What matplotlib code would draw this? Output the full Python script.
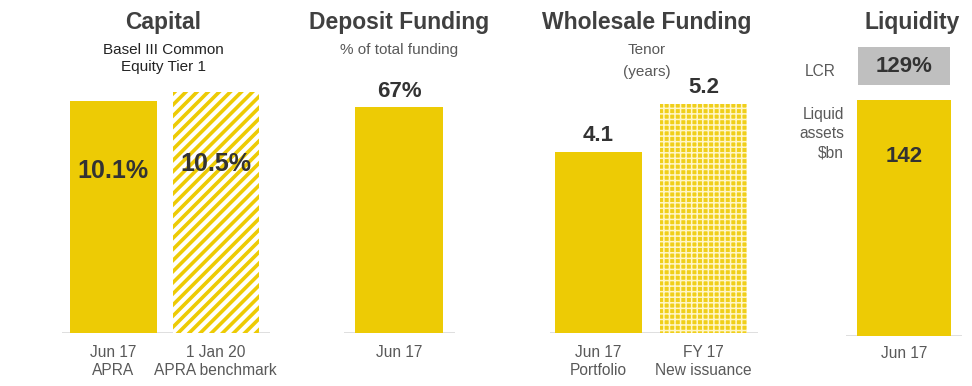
import matplotlib
matplotlib.use("Agg")
import matplotlib.pyplot as plt

plt.rcParams['font.family'] = ['Liberation Sans', 'DejaVu Sans']

# ---- data ----
capital_labels = ["Jun 17\nAPRA", "1 Jan 20\nAPRA benchmark"]
capital_values = [10.1, 10.5]
deposit_labels = ["Jun 17"]
deposit_values = [67]
wholesale_labels = ["Jun 17\nPortfolio", "FY 17\nNew issuance"]
wholesale_values = [4.1, 5.2]
liquidity_labels = ["Jun 17"]
liquid_assets = [142]
lcr_values = [129]

titles = ["Capital", "Deposit Funding", "Wholesale Funding", "Liquidity"]
subtitles = ["Basel III Common\nEquity Tier 1", "% of total funding", "Tenor\n(years)", ""]

YELLOW = "#EDCB05"
GREY = "#BFBFBF"
DARK = "#333333"
TITLE = "#404040"
TICK = "#595959"
BASE = "#D9D9D9"

W, H = 972, 386
fig = plt.figure(figsize=(W / 100, H / 100), dpi=100)


def make_ax(left, right, top, bottom, xlim, ylim):
    ax = fig.add_axes([left / W, 1 - bottom / H, (right - left) / W, (bottom - top) / H])
    ax.set_xlim(*xlim)
    ax.set_ylim(*ylim)
    ax.axis("off")
    ax.axhline(0, color=BASE, lw=1.2, zorder=0)
    return ax


def ticklabels(ax, labels, y_px, color=TICK):
    for i, lab in enumerate(labels):
        ax.annotate(lab, xy=(i, 0), xycoords="data", xytext=(0, -(y_px)),
                    textcoords="offset pixels", ha="center", va="top",
                    fontsize=11.2, color=color, linespacing=1.25)


VAL = dict(fontweight="heavy", color=DARK)

# ---- Capital ----
ax1 = make_ax(62, 270, 92, 333, (-0.5, 1.53), (0, capital_values[1]))
ax1.bar([0], capital_values[:1], width=0.85, color=YELLOW, lw=0)
plt.rcParams['hatch.linewidth'] = 2.6
ax1.bar([1], capital_values[1:], width=0.84, facecolor="white", edgecolor=YELLOW,
        lw=0, hatch="///")
for i, v in enumerate(capital_values):
    ax1.text(i, v * 0.7, f"{v:.1f}%", ha="center", va="center", fontsize=18, **VAL)
ticklabels(ax1, capital_labels, 12)

# ---- Deposit Funding ----
ax2 = make_ax(344, 455, 107, 333, (-0.54, 0.55), (0, deposit_values[0]))
ax2.bar([0], deposit_values, width=0.86, color=YELLOW, lw=0)
ax2.annotate(f"{deposit_values[0]}%", xy=(0, deposit_values[0]), xytext=(0, 5),
             textcoords="offset pixels", ha="center", va="bottom", fontsize=16, **VAL)
ticklabels(ax2, deposit_labels, 12)

# ---- Wholesale Funding ----
ax3 = make_ax(550, 758, 104, 333, (-0.46, 1.52), (0, wholesale_values[1]))
ax3.bar([0], wholesale_values[:1], width=0.83, color=YELLOW, lw=0)
plt.rcParams['hatch.linewidth'] = 1.1
ax3.bar([1], wholesale_values[1:], width=0.83, facecolor="#F0CF1A", edgecolor="#FFF6C8",
        lw=0, hatch="+++")
for i, v in enumerate(wholesale_values):
    ax3.annotate(f"{v:.1f}", xy=(i, v), xytext=(0, 6), textcoords="offset pixels",
                 ha="center", va="bottom", fontsize=16, **VAL)
ticklabels(ax3, wholesale_labels, 12)

# ---- Liquidity ----
ax4 = make_ax(846, 962, 100, 336, (-0.62, 0.62), (0, liquid_assets[0]))
ax4.bar([0], liquid_assets, width=1.0, color=YELLOW, lw=0)
ax4.text(0, liquid_assets[0] * 0.76, f"{liquid_assets[0]}", ha="center", va="center",
         fontsize=16, **VAL)
ticklabels(ax4, liquidity_labels, 10)

ax5 = fig.add_axes([846 / W, 1 - 85 / H, 116 / W, 38 / H])
ax5.set_xlim(-0.62, 0.62)
ax5.set_ylim(0, 1)
ax5.axis("off")
ax5.bar([0], [1], width=0.99, color=GREY, lw=0)
ax5.text(0, 0.5, f"{lcr_values[0]}%", ha="center", va="center", fontsize=16, **VAL)

fig.text(820 / W, 1 - 71 / H, "LCR", ha="center", va="center", fontsize=11.2, color=TICK)
fig.text(844 / W, 1 - 134 / H, "Liquid\nassets\n$bn", ha="right", va="center",
         fontsize=11.2, color=TICK, linespacing=1.35)

# ---- titles ----
title_x = [163, 399, 647, 912]
sub_ls = [1.3, 1.3, 1.75, 1.3]
for tx, t, s, ls in zip(title_x, titles, subtitles, sub_ls):
    fig.text(tx / W, 1 - 22 / H, t, ha="center", va="center", fontsize=16.5,
             fontweight="bold", color=TITLE)
    if s:
        fig.text(tx / W, 1 - 43 / H, s, ha="center", va="top", fontsize=11,
                 color="#222222" if tx == 163 else TICK, linespacing=ls)

fig.savefig("out.png", dpi=100, facecolor="white")
